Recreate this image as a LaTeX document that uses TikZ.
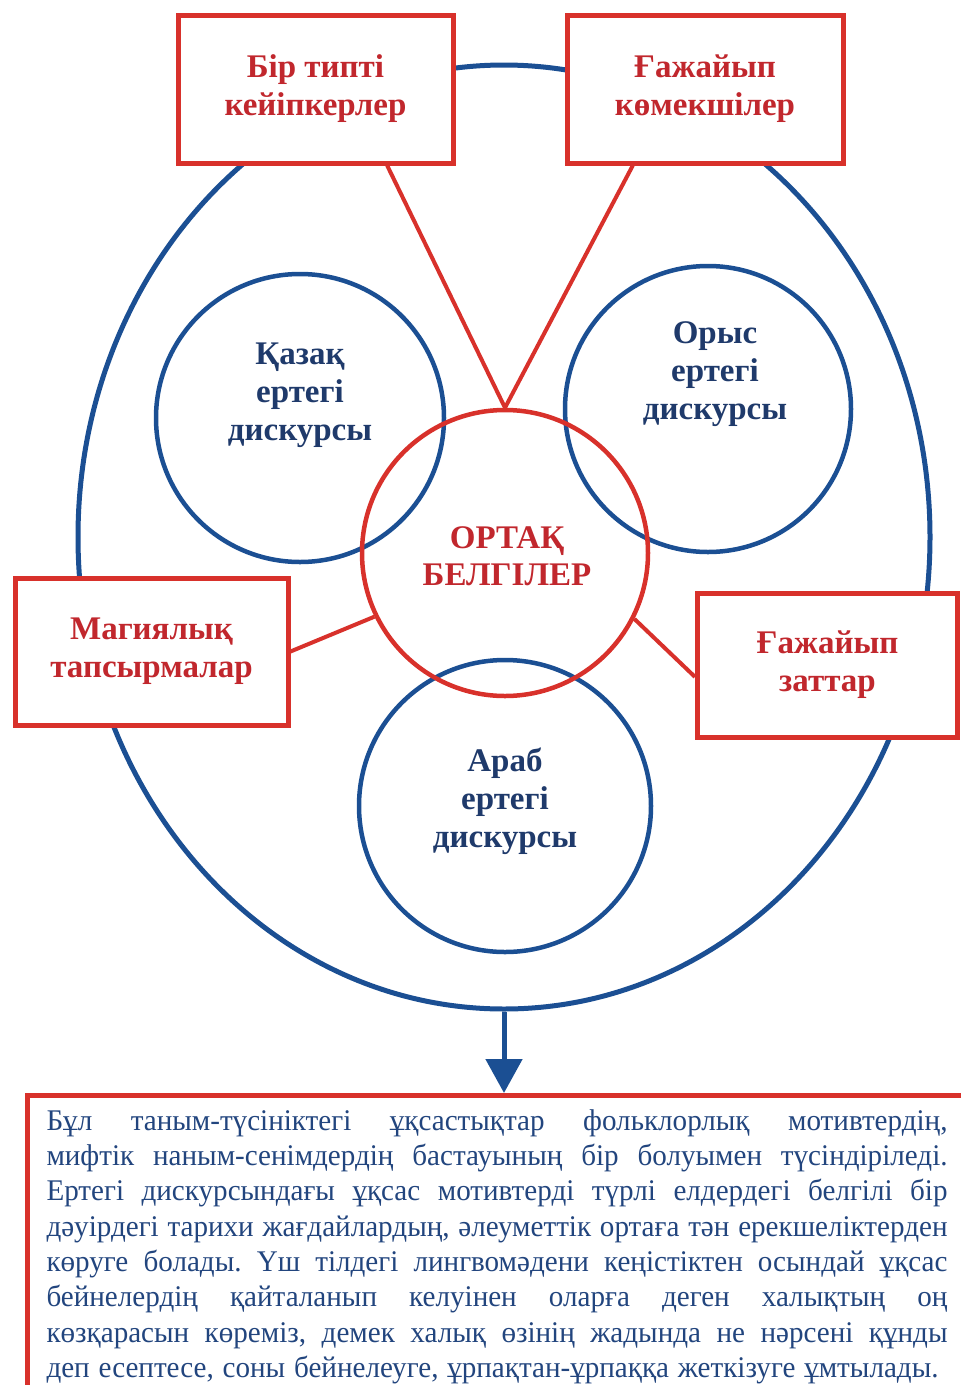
\documentclass[tikz,border=0pt]{standalone}
\usepackage{fontspec}
\setmainfont{Liberation Serif}
\newfontfamily\notefont[FakeStretch=0.97]{Liberation Serif}
\usetikzlibrary{shapes.geometric,arrows.meta,calc}
\definecolor{lblue}{HTML}{1B4F93}
\definecolor{tblue}{HTML}{1F3A6B}
\definecolor{nblue}{HTML}{22457E}
\definecolor{lred}{HTML}{D8312B}
\definecolor{tred}{HTML}{C1272D}
\frenchspacing
\begin{document}
\begin{tikzpicture}[x=1pt,y=-1pt,
  bigring/.style={draw=lblue,line width=5pt,ellipse,inner sep=0pt,minimum width=852pt,minimum height=944pt},
  bluering/.style={draw=lblue,line width=4.5pt,circle,inner sep=0pt,minimum size=#1},
  redring/.style={draw=lred,line width=4.5pt,circle,inner sep=0pt,minimum size=#1},
  rbox/.style={draw=lred,line width=5pt,fill=white,rectangle,inner sep=0pt,align=center,
    font=\bfseries\fontsize{33}{38}\selectfont,text=tred},
  blabel/.style={align=center,font=\bfseries\fontsize{33}{38}\selectfont,text=tblue},
  rlabel/.style={align=center,font=\bfseries\fontsize{33}{37}\selectfont,text=tred},
  link/.style={draw=lred,line width=4pt},
  notebox/.style={draw=lred,line width=5pt,anchor=north west,inner xsep=19pt,inner ysep=14pt,
    text width=901pt,align=justify,text=nblue,font=\notefont\fontsize{30}{35.3}\selectfont}
]
\useasboundingbox (0,0) rectangle (961,1385);
\clip (0,0) rectangle (961,1385);

% outer ellipse and circles
\node[bigring] (big) at (504,537) {};
\node[bluering=288pt] (kaz) at (300,418) {};
\node[bluering=286pt] (rus) at (708,409) {};
\node[bluering=292pt] (arab) at (505,806) {};
\node[redring=286pt] (core) at (505,553) {};

% boxes
\node[rbox,minimum width=275pt,minimum height=148pt] (b1) at (315.5,89) {Бір типті\\кейіпкерлер};
\node[rbox,minimum width=276pt,minimum height=148pt] (b2) at (705,89) {Ғажайып\\көмекшілер};
\node[rbox,minimum width=273pt,minimum height=147pt] (b3) at (151.5,651.5) {Магиялық\\тапсырмалар};
\node[rbox,minimum width=260pt,minimum height=144pt] (b4) at (827.5,665) {Ғажайып\\заттар};

% red connectors
\draw[link] ($(b1.south west)!0.756!(b1.south east)$) -- (core.90);
\draw[link] ($(b2.south west)!0.243!(b2.south east)$) -- (core.90);
\draw[link] (b3.east) -- (core.206);
\draw[link] ($(b4.north west)!0.58!(b4.south west)$) -- (core.333);

% circle labels
\node[blabel] (kazt) at (300,395) {Қазақ\\ертегі\\дискурсы};
\node[blabel] (rust) at (715,374) {Орыс\\ертегі\\дискурсы};
\node[blabel] (arabt) at (505,801) {Араб\\ертегі\\дискурсы};
\node[rlabel] (coret) at (507,556) {ОРТАҚ\\БЕЛГІЛЕР};

% bottom note
\node[notebox] (note) at (25,1093) {\spaceskip=0pt\xspaceskip=0pt\frenchspacing%
\makebox[901pt][s]{Бұл таным-түсініктегі ұқсастықтар фольклорлық мотивтердің,}\\
\makebox[901pt][s]{мифтік наным-сенімдердің бастауының бір болуымен түсіндіріледі.}\\
\makebox[901pt][s]{Ертегі дискурсындағы ұқсас мотивтерді түрлі елдердегі белгілі бір}\\
\makebox[901pt][s]{дәуірдегі тарихи жағдайлардың, әлеуметтік ортаға тән ерекшеліктерден}\\
\makebox[901pt][s]{көруге болады. Үш тілдегі лингвомәдени кеңістіктен осындай ұқсас}\\
\makebox[901pt][s]{бейнелердің қайталанып келуінен оларға деген халықтың оң}\\
\makebox[901pt][s]{көзқарасын көреміз, демек халық өзінің жадында не нәрсені құнды}\\
\makebox[892pt][s]{деп есептесе, соны бейнелеуге, ұрпақтан-ұрпаққа жеткізуге ұмтылады.}};

% arrow
\draw[lblue,line width=5pt,-{Triangle[width=36pt,length=34pt]}] (big.south) -- (big.south |- note.north);
\end{tikzpicture}
\end{document}
